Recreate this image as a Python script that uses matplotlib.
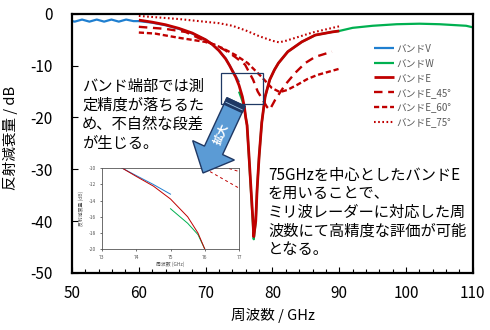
import matplotlib
matplotlib.use("Agg")
import matplotlib.pyplot as plt
from matplotlib.patches import FancyArrow, Rectangle, Polygon
from matplotlib.ticker import MultipleLocator
from matplotlib.transforms import Affine2D
from matplotlib.lines import Line2D

plt.rcParams['font.family'] = ['Noto Sans CJK JP', 'DejaVu Sans']
plt.rcParams['axes.unicode_minus'] = False

# ---------------- data ----------------
v_x = [50, 50.4, 51.5, 52.6, 53.7, 54.8, 55.9, 57.0, 58.1, 59.2, 60, 62, 64, 66, 68, 70, 71, 72, 73, 73.6, 74, 74.5, 75]
v_y = [-1.4, -1.5, -1.1, -1.5, -1.1, -1.5, -1.1, -1.5, -1.1, -1.4, -1.4, -1.7, -2.2, -2.9, -3.8, -5.0, -5.9, -7.1, -8.6, -10.0, -10.9, -12.0, -13.2]

w_x = [75, 75.5, 75.8, 76.0, 76.2, 76.5, 76.8, 77.1, 77.2, 77.5, 77.7, 78.0, 78.4, 78.9, 79.6, 80.3, 80.9, 82.3, 84.4, 86.4, 88.9, 90, 92, 95, 98.6, 102, 105, 109, 110]
w_y = [-15.0, -16.8, -18.2, -20.0, -21.5, -28.0, -34.5, -41.0, -43.5, -40.0, -34.0, -27.6, -21.0, -16.0, -12.7, -10.8, -9.5, -7.3, -5.4, -4.1, -3.5, -3.3, -2.7, -2.3, -2.0, -1.9, -2.0, -2.3, -2.6]

e_x = [60, 62, 64, 66, 68, 70, 71, 72, 73, 73.6, 74, 74.5, 75, 75.5, 75.8, 76.0, 76.2, 76.5, 76.8, 77.1, 77.2, 77.5, 77.7, 78.0, 78.4, 78.9, 79.6, 80.3, 80.9, 82.3, 84.4, 86.4, 88.9, 90]
e_y = [-1.2, -1.6, -2.1, -2.8, -3.7, -5.0, -5.9, -7.1, -8.7, -10.0, -11.0, -12.2, -13.8, -16.0, -18.0, -20.0, -21.5, -27.6, -34.0, -40.3, -43.0, -40.0, -34.0, -27.6, -21.0, -16.0, -12.7, -10.8, -9.5, -7.3, -5.4, -4.1, -3.5, -3.3]

e45_x = [60, 62, 64, 67, 69.5, 71.4, 72.9, 74.4, 75.9, 77.1, 77.8, 79.2, 79.6, 80.4, 81.9, 83.4, 84.9, 86.4, 88.9]
e45_y = [-2.5, -2.7, -2.9, -3.5, -5.0, -6.0, -7.0, -8.3, -9.8, -12.7, -15.0, -18.0, -18.5, -16.6, -13.7, -11.4, -9.5, -8.3, -7.3]

e60_x = [60, 62.4, 65.9, 69.9, 71.4, 72.5, 74.4, 76.3, 78.4, 79.9, 81.1, 82.2, 83.7, 85.2, 86.7, 90]
e60_y = [-3.6, -3.8, -4.6, -5.4, -6.0, -6.6, -7.9, -9.5, -12.2, -14.3, -15.1, -14.7, -13.7, -12.6, -11.8, -10.6]

e75_x = [60, 63, 66, 69, 72, 74, 76, 78, 80, 81, 82, 84, 86, 88, 90]
e75_y = [-0.4, -0.7, -1.0, -1.4, -1.8, -2.3, -3.2, -4.3, -5.2, -5.5, -5.2, -4.4, -3.6, -3.0, -2.4]

labels = ['バンドV', 'バンドW', 'バンドE', 'バンドE_45°', 'バンドE_60°', 'バンドE_75°']
x_ticks = [50, 60, 70, 80, 90, 100, 110]
y_ticks = [0, -10, -20, -30, -40, -50]
inset_x_ticks = [73, 74, 75, 76, 77]
inset_y_ticks = [-10, -12, -14, -16, -18, -20]

note_left = "バンド端部では測\n定精度が落ちるた\nめ、不自然な段差\nが生じる。"
note_right = "75GHzを中心としたバンドE\nを用いることで、\nミリ波レーダーに対応した周\n波数にて高精度な評価が可能\nとなる。"

C_V = '#1f7fd0'
C_W = '#00b050'
C_E = '#c00000'
NAVY = '#1f3864'

series = [
    (v_x, v_y, dict(color=C_V, lw=1.6)),
    (w_x, w_y, dict(color=C_W, lw=1.6)),
    (e_x, e_y, dict(color=C_E, lw=2.0)),
    (e45_x, e45_y, dict(color=C_E, lw=1.7, dashes=(3.6, 2.4))),
    (e60_x, e60_y, dict(color=C_E, lw=1.7, dashes=(2.2, 1.2))),
    (e75_x, e75_y, dict(color=C_E, lw=1.5, dashes=(0.8, 1.2))),
]

fig = plt.figure(figsize=(4.9, 3.3), dpi=100)
ax = fig.add_axes([0.147, 0.173, 0.818, 0.785])

handles = []
for (xs, ys, st), lab in zip(series, labels):
    h, = ax.plot(xs, ys, label=lab, solid_capstyle='butt', **st)
    handles.append(h)

ax.set_xlim(50, 110)
ax.set_ylim(-50, 0)
ax.set_xticks(x_ticks)
ax.set_yticks(y_ticks)
ax.xaxis.set_minor_locator(MultipleLocator(2))
ax.tick_params(axis='both', which='major', direction='in', length=4, width=0.8, labelsize=11)
ax.tick_params(axis='x', which='major', pad=9)
ax.tick_params(axis='y', which='major', pad=14)
ax.tick_params(axis='x', which='minor', direction='in', length=3, width=0.8)
for sp in ax.spines.values():
    sp.set_linewidth(1.6)
    sp.set_color('black')

ax.set_ylabel('反射減衰量 / dB', fontsize=10.5)
ax.yaxis.set_label_coords(-0.135, 0.52)
ax.set_xlabel('周波数 / GHz', fontsize=10.5)
ax.xaxis.set_label_coords(0.5, -0.135)

leg = ax.legend(handles=handles, loc='upper left', bbox_to_anchor=(0.753, 0.887),
                fontsize=7, labelcolor='#595959', frameon=False, handlelength=2.1,
                handletextpad=0.2, labelspacing=0.5, borderpad=0, borderaxespad=0)

ax.text(0.025, 0.752, note_left, transform=ax.transAxes, fontsize=11,
        va='top', ha='left', linespacing=1.15, zorder=6)
ax.text(0.489, 0.41, note_right, transform=ax.transAxes, fontsize=11,
        va='top', ha='left', linespacing=1.12, zorder=6)

# zoom rectangle
ax.add_patch(Rectangle((72.3, -17.4), 6.3, 6.0, fill=False, ec=NAVY, lw=0.9, zorder=5))

# inset
axi = fig.add_axes([0.208, 0.245, 0.280, 0.245], zorder=3)
axi.set_facecolor('white')
for (xs, ys, st), lab in zip(series, labels):
    st2 = dict(st)
    st2['lw'] = 0.7
    if 'dashes' in st2:
        st2['dashes'] = (3, 3)
    axi.plot(xs, ys, **st2)
axi.set_xlim(73, 77)
axi.set_ylim(-20, -10)
axi.set_xticks(inset_x_ticks)
axi.set_yticks(inset_y_ticks)
axi.tick_params(labelsize=3.5, labelcolor='#555555', length=1.5, width=0.4, pad=3)
for sp in axi.spines.values():
    sp.set_linewidth(0.6)
    sp.set_color('#555555')
axi.set_ylabel('反射減衰量 (dB)', fontsize=3.5, color='#555555', labelpad=3)
axi.set_xlabel('周波数 (GHz)', fontsize=3.5, color='#555555', labelpad=1)

# arrow in figure pixel coordinates
pix = Affine2D().scale(1 / 100.0) + fig.dpi_scale_trans
tail = (236, 330 - 102)
tip = (203, 330 - 173)
dx, dy = tip[0] - tail[0], tip[1] - tail[1]
arr = FancyArrow(tail[0], tail[1], dx, dy, width=20, head_width=46, head_length=25,
                 length_includes_head=True, transform=pix, fc='#5b9bd5', ec=NAVY, lw=1.0,
                 zorder=10)
fig.add_artist(arr)
L = (dx ** 2 + dy ** 2) ** 0.5
ux, uy = dx / L, dy / L
nx, ny = -uy, ux
band = Polygon([(tail[0] + nx * 10, tail[1] + ny * 10), (tail[0] - nx * 10, tail[1] - ny * 10),
                (tail[0] - nx * 10 + ux * 7, tail[1] - ny * 10 + uy * 7),
                (tail[0] + nx * 10 + ux * 7, tail[1] + ny * 10 + uy * 7)],
               closed=True, transform=pix, fc=NAVY, ec=NAVY, lw=1.0, zorder=11)
fig.add_artist(band)
fig.add_artist(Line2D([tail[0] + nx * 9 + ux * 4.5, tail[0] - nx * 9 + ux * 4.5],
                      [tail[1] + ny * 9 + uy * 4.5, tail[1] - ny * 9 + uy * 4.5],
                      transform=pix, color='#9dc3e6', lw=0.6, zorder=12))
fig.text(221, 330 - 134, '拡大', transform=pix, rotation=66, color='white', fontsize=8,
         ha='center', va='center', zorder=13, fontweight='bold')

fig.savefig('out.png', dpi=100)
